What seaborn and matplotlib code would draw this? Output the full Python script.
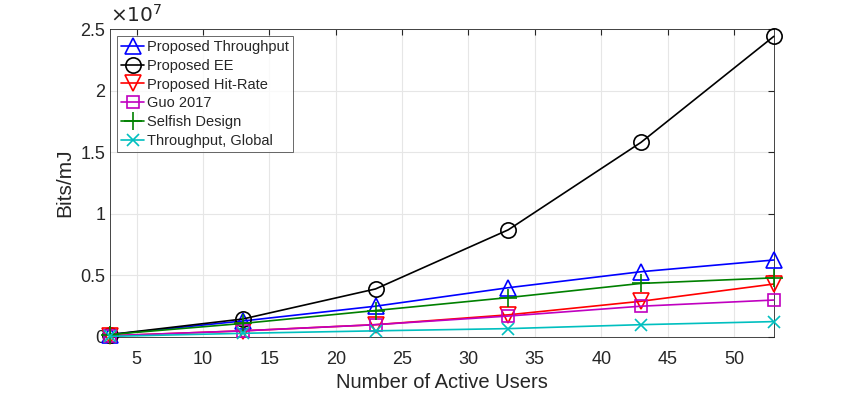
import matplotlib
matplotlib.use("Agg")
import matplotlib.pyplot as plt
import seaborn as sns
import pandas as pd

users = [3, 13, 23, 33, 43, 53]
prop_throughput = [0.02e7, 0.13e7, 0.25e7, 0.40e7, 0.53e7, 0.625e7]
prop_ee = [0.02e7, 0.146e7, 0.39e7, 0.87e7, 1.58e7, 2.44e7]
prop_hitrate = [0.01e7, 0.05e7, 0.10e7, 0.18e7, 0.29e7, 0.43e7]
guo2017 = [0.01e7, 0.05e7, 0.10e7, 0.17e7, 0.25e7, 0.30e7]
selfish = [0.02e7, 0.11e7, 0.215e7, 0.32e7, 0.435e7, 0.48e7]
thr_global = [0.005e7, 0.03e7, 0.05e7, 0.068e7, 0.10e7, 0.125e7]

names = ["Proposed Throughput", "Proposed EE", "Proposed Hit-Rate",
         "Guo 2017", "Selfish Design", "Throughput, Global"]
series = [prop_throughput, prop_ee, prop_hitrate, guo2017, selfish, thr_global]
colors = ["#0000ff", "#000000", "#ff0000", "#c000c0", "#008000", "#00bfbf"]
markers = ["^", "o", "v", "s", "+", "x"]
msizes = [11, 11, 11, 8.5, 13, 9]

sns.set_style("white")
plt.rcParams["font.family"] = ["Liberation Sans", "DejaVu Sans"]

fig = plt.figure(figsize=(8.55, 3.93), dpi=100)
ax = fig.add_axes([0.1287, 0.1425, 0.7763, 0.7837])

for name, vals, c, m, ms in zip(names, series, colors, markers, msizes):
    df = pd.DataFrame({"x": users, "y": vals})
    sns.lineplot(data=df, x="x", y="y", ax=ax, color=c, marker=m, label=name,
                 markersize=ms, markerfacecolor="none", markeredgecolor=c,
                 markeredgewidth=1.2, linewidth=1.2, clip_on=False, zorder=3)

ax.set_xlim(3, 53)
ax.set_ylim(0, 2.5e7)
ax.set_xticks([5, 10, 15, 20, 25, 30, 35, 40, 45, 50])
ax.set_yticks([0, 0.5e7, 1e7, 1.5e7, 2e7, 2.5e7])
ax.set_yticklabels(["0", "0.5", "1", "1.5", "2", "2.5"])
ax.text(0.0, 1.01, r"$\times 10^{7}$", transform=ax.transAxes, fontsize=14.5,
        color="#262626", ha="left", va="bottom")
ax.grid(True, color="#e6e6e6", linewidth=0.8)
ax.set_axisbelow(True)
ax.tick_params(direction="in", top=True, right=True, labelsize=13,
               colors="#262626", length=4)
ax.tick_params(axis="x", pad=10)
for s in ax.spines.values():
    s.set_visible(True)
    s.set_color("#262626")
    s.set_linewidth(0.6)
ax.set_xlabel("Number of Active Users", fontsize=14.5, color="#262626", labelpad=4)
ax.set_ylabel("Bits/mJ", fontsize=15, color="#262626", labelpad=4)

leg = ax.legend(loc="upper left", fontsize=10.5, frameon=True, fancybox=False,
                edgecolor="#262626", borderpad=0.25, labelspacing=0.33,
                handlelength=1.6, handletextpad=0.2, borderaxespad=0.5)
leg.get_frame().set_linewidth(0.6)
leg.set_zorder(5)

fig.savefig("out.png", dpi=100)
